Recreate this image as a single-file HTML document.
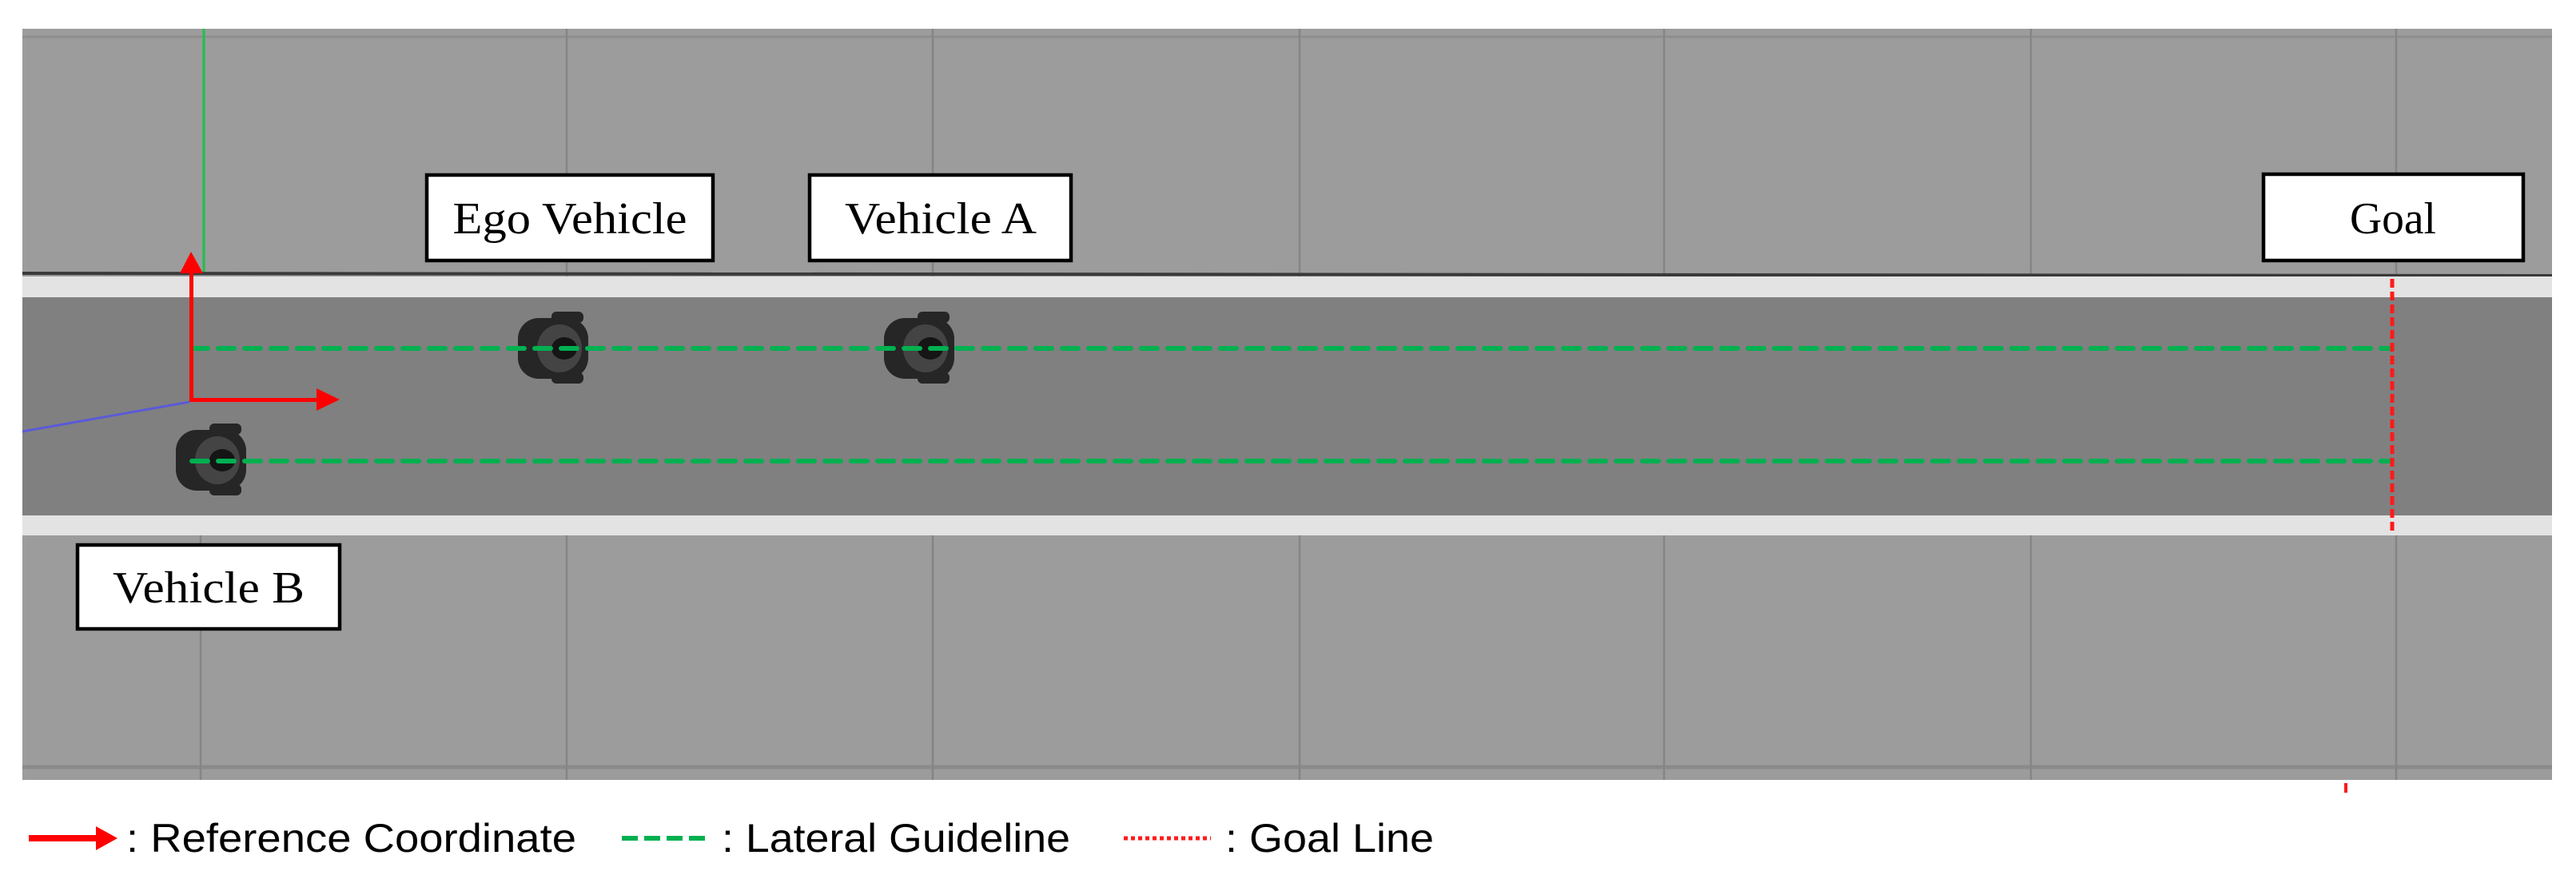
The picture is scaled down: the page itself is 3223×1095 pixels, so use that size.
<!DOCTYPE html>
<html><head><meta charset="utf-8"><style>html,body{margin:0;padding:0;background:#fff}svg{display:block}</style></head>
<body>
<svg width="3223" height="1095" viewBox="0 0 3223 1095" xmlns="http://www.w3.org/2000/svg">
<rect x="0" y="0" width="3223" height="1095" fill="#fff"/>
<rect x="28" y="36" width="3165" height="940" fill="#9c9c9c"/>
<line x1="28" y1="46" x2="3193" y2="46" stroke="#8e8e8e" stroke-width="3"/>
<line x1="28" y1="960" x2="3193" y2="960" stroke="#8a8a8a" stroke-width="5"/>
<g stroke="#858585" stroke-width="2.5">
<line x1="709" y1="36" x2="709" y2="976"/><line x1="1167" y1="36" x2="1167" y2="976"/>
<line x1="1626" y1="36" x2="1626" y2="976"/><line x1="2082" y1="36" x2="2082" y2="976"/>
<line x1="2541" y1="36" x2="2541" y2="976"/><line x1="2998" y1="36" x2="2998" y2="976"/>
<line x1="251" y1="670" x2="251" y2="976"/>
</g>
<line x1="255" y1="36" x2="255" y2="343" stroke="#19c24a" stroke-width="3"/>
<line x1="28" y1="342" x2="3193" y2="345" stroke="#3a3a3a" stroke-width="4"/>
<rect x="28" y="346" width="3165" height="26" fill="#e3e3e3"/>
<rect x="28" y="372" width="3165" height="273" fill="#808080"/>
<rect x="28" y="645" width="3165" height="25" fill="#e3e3e3"/>
<line x1="28" y1="540" x2="237" y2="503" stroke="#5a5ad8" stroke-width="3"/>
<g fill="#262626">
<rect x="648" y="398" width="88" height="76" rx="26"/><rect x="690" y="390" width="40" height="14" rx="6"/><rect x="690" y="466" width="40" height="14" rx="6"/>
<rect x="1106" y="398" width="88" height="76" rx="26"/><rect x="1148" y="390" width="40" height="14" rx="6"/><rect x="1148" y="466" width="40" height="14" rx="6"/>
<rect x="220" y="538" width="88" height="76" rx="26"/><rect x="262" y="530" width="40" height="14" rx="6"/><rect x="262" y="606" width="40" height="14" rx="6"/>
</g>
<g fill="#444">
<ellipse cx="700" cy="436" rx="28" ry="30"/><ellipse cx="1158" cy="436" rx="28" ry="30"/><ellipse cx="272" cy="576" rx="28" ry="30"/>
</g>
<g fill="#151515">
<ellipse cx="706" cy="436" rx="16" ry="14"/><ellipse cx="1164" cy="436" rx="16" ry="14"/><ellipse cx="278" cy="576" rx="16" ry="14"/>
</g>
<g stroke="#00b050" stroke-width="6" stroke-dasharray="20 13" stroke-linecap="round">
<line x1="240" y1="436" x2="2991" y2="436"/><line x1="240" y1="577" x2="2991" y2="577"/>
</g>
<line x1="2993" y1="349" x2="2993" y2="667" stroke="#ff1a1a" stroke-width="5" stroke-dasharray="11 5"/>
<line x1="2935" y1="980" x2="2935" y2="992" stroke="#ff1a1a" stroke-width="4"/>
<g fill="#ff0000" stroke="none">
<rect x="237" y="335" width="5" height="168"/>
<rect x="237" y="498" width="168" height="5"/>
<polygon points="239,315 225,342 254,342"/>
<polygon points="425,500 396,486 396,514"/>
</g>
<g fill="#fff" stroke="#000" stroke-width="4.5">
<rect x="534" y="219" width="358" height="107"/>
<rect x="1013" y="219" width="327" height="107"/>
<rect x="2832" y="218" width="325" height="108"/>
<rect x="97" y="682" width="328" height="105"/>
</g>
<g font-family="'Liberation Serif',serif" font-size="56" fill="#000" text-anchor="middle">
<text x="713" y="292" textLength="293" lengthAdjust="spacingAndGlyphs">Ego Vehicle</text>
<text x="1177" y="292" textLength="240" lengthAdjust="spacingAndGlyphs">Vehicle A</text>
<text x="2994" y="292" textLength="108" lengthAdjust="spacingAndGlyphs">Goal</text>
<text x="261" y="754" textLength="240" lengthAdjust="spacingAndGlyphs">Vehicle B</text>
</g>
<rect x="36" y="1045" width="85" height="8" fill="#ff0000"/>
<polygon points="147,1049 120,1034 120,1064" fill="#ff0000"/>
<g stroke="#00b050" stroke-width="6" stroke-dasharray="20 8"><line x1="778" y1="1049" x2="885" y2="1049"/></g>
<g stroke="#ff1a1a" stroke-width="5" stroke-dasharray="5 4"><line x1="1406" y1="1049" x2="1515" y2="1049"/></g>
<g font-family="'Liberation Sans',sans-serif" font-size="50" fill="#000">
<text x="158" y="1066" textLength="563" lengthAdjust="spacingAndGlyphs">: Reference Coordinate</text>
<text x="903" y="1066" textLength="436" lengthAdjust="spacingAndGlyphs">: Lateral Guideline</text>
<text x="1533" y="1066" textLength="261" lengthAdjust="spacingAndGlyphs">: Goal Line</text>
</g>
</svg>
</body></html>
